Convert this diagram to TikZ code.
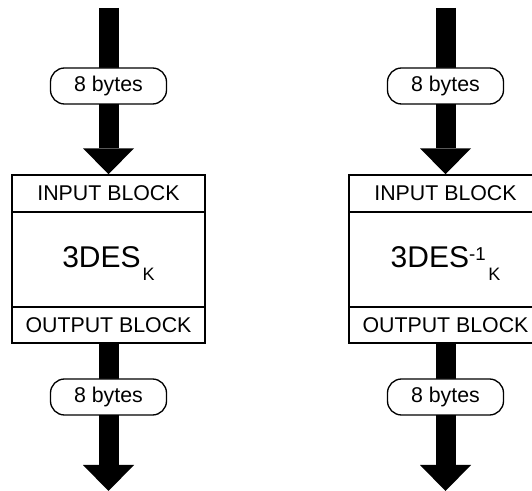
\documentclass[tikz,border=0pt]{standalone}
\usepackage{fontspec}
\setmainfont{Liberation Sans}
\usetikzlibrary{arrows.meta}
\begin{document}
\begin{tikzpicture}[x=0.75pt,y=-0.75pt,
  blk/.style={draw, line width=1.1pt, minimum width=193*0.75pt, inner sep=0pt,
    font=\fontsize{16}{18}\selectfont},
  pill/.style={draw, fill=white, line width=1pt, rounded corners=14*0.75pt,
    minimum width=116*0.75pt, minimum height=36*0.75pt, inner sep=0pt,
    font=\fontsize{16}{18}\selectfont},
  flow/.style={line width=15pt,
    -{Triangle[width=38.25pt,length=19.5pt,line width=0pt]}},
  big/.style={inner sep=0pt, anchor=base, font=\fontsize{22.5}{24}\selectfont}
]
\clip (0,0) rectangle (532,491);
% left column
\node[blk, minimum height=37*0.75pt] (inL) at (108.5,193.5) {INPUT BLOCK};
\node[blk, minimum height=95*0.75pt] (mainL) at (108.5,259.5) {};
\node[blk, minimum height=36*0.75pt] (outL) at (108.5,325) {OUTPUT BLOCK};
\node[big] (tL) at (108.5,267.5) {3DES\hspace{1.5pt}\raisebox{-9.4pt}{\fontsize{13.5}{14}\selectfont K}};
\coordinate (sL) at (108.5,8);
\coordinate (eL) at (108.5,491);
\draw[flow] (sL) -- (inL.north);
\draw[flow] (outL.south) -- (eL);
\node[pill] (p1L) at (108.5,86) {8 bytes};
\node[pill] (p2L) at (108.5,397) {8 bytes};
% right column
\node[blk, minimum height=37*0.75pt] (inR) at (445.5,193.5) {INPUT BLOCK};
\node[blk, minimum height=95*0.75pt] (mainR) at (445.5,259.5) {};
\node[blk, minimum height=36*0.75pt] (outR) at (445.5,325) {OUTPUT BLOCK};
\node[big] (tR) at (445.5,267.5) {3DES\raisebox{5.6pt}{\fontsize{14}{14}\selectfont -1}\hspace{2pt}\raisebox{-9.4pt}{\fontsize{13.5}{14}\selectfont K}};
\coordinate (sR) at (445.5,8);
\coordinate (eR) at (445.5,491);
\draw[flow] (sR) -- (inR.north);
\draw[flow] (outR.south) -- (eR);
\node[pill] (p1R) at (445.5,86) {8 bytes};
\node[pill] (p2R) at (445.5,397) {8 bytes};
\end{tikzpicture}
\end{document}
